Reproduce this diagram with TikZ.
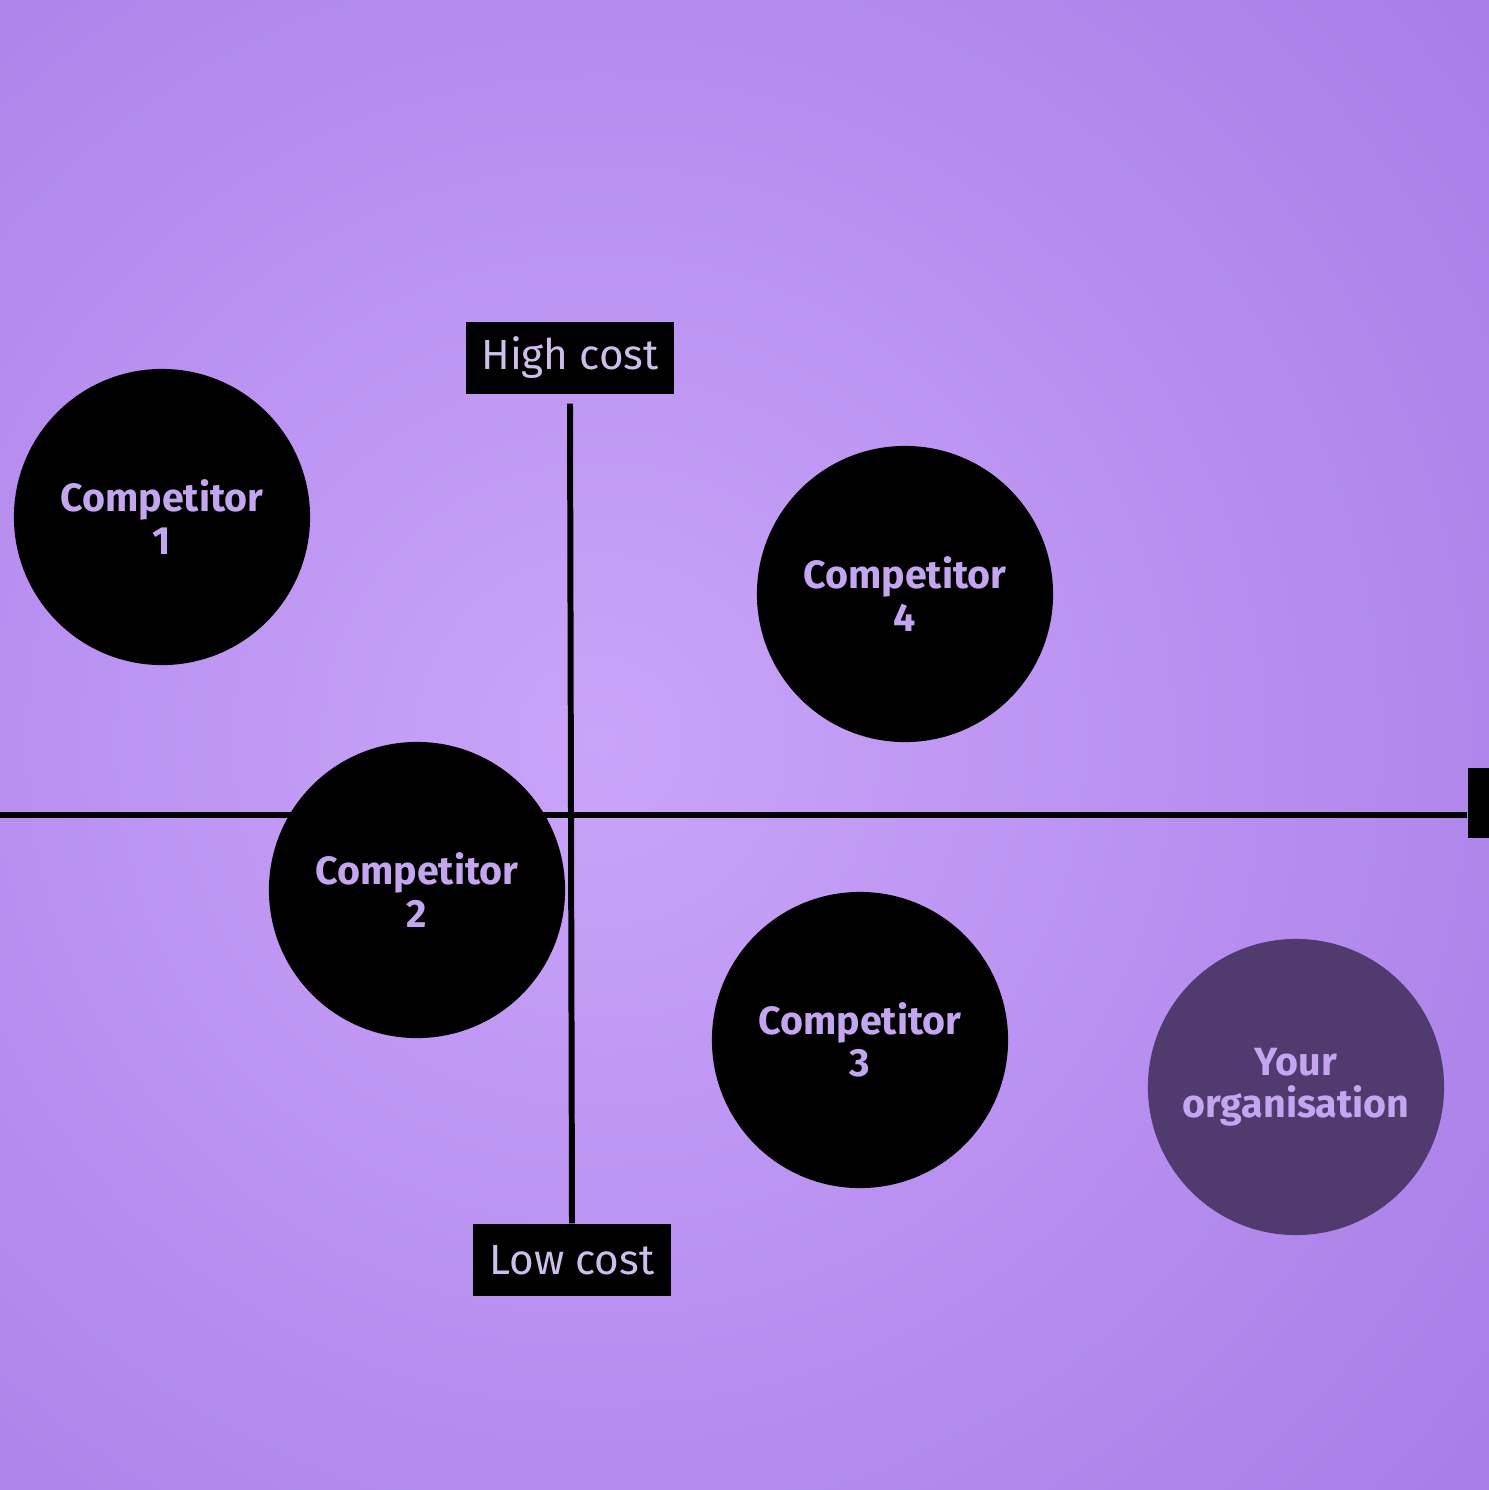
\documentclass[tikz,border=0pt]{standalone}
\usepackage{fontspec}
\setmainfont{Fira Sans}
\usepackage{xcolor}
\usepackage{tikz}
\usetikzlibrary{
	calc,
	positioning
}
\definecolor{BgInner}{RGB}{202,164,249}
\definecolor{BgOuter}{RGB}{164,120,229}
\definecolor{Lavender}{RGB}{196,166,240}
\definecolor{LabelText}{RGB}{206,190,236}
\definecolor{OrgFill}{RGB}{79,59,110}

\begin{document}
\begin{tikzpicture}[x=0.01cm, y=-0.01cm,
		rival/.style={circle, fill=black, minimum size=2.96cm, inner sep=0pt, align=center, text=Lavender, font=\fontsize{11.2}{12}\selectfont\bfseries},
		axislabel/.style={fill=black, minimum width=2.07cm, minimum height=0.72cm, inner sep=0pt, text=LabelText, font=\fontsize{12}{14}\selectfont},
		axisline/.style={line width=1.7pt, black}]
			\useasboundingbox (0,0) rectangle (1489,1490);
			% background
			\begin{scope}
				\clip (0,0) rectangle (1489,1490);
				\fill[BgOuter] (0,0) rectangle (1489,1490);
				\shade[inner color=BgInner, outer color=BgOuter] (-700,-560) rectangle (1900,2040);
			\end{scope}
			% axes
			\node[axislabel] (high) at (570,358) {High cost};
			\node[axislabel, minimum width=1.97cm] (low) at (572,1260) {Low cost};
			\node[fill=black, minimum width=0.6cm, minimum height=0.7cm, inner sep=0pt, anchor=west] (right) at (1467,803) {};
			\coordinate (west) at (0,815);
			\draw[axisline] ([yshift=-0.09cm]high.south) -- (low.north);
			\draw[axisline] (west) -- (west -| right.west);
			% competitors
			\node[rival] (c1) at (162,517) {Competitor\\1};
			\node[rival] (c4) at (905,594) {Competitor\\4};
			\node[rival] (c2) at (417,890) {Competitor\\2};
			\node[rival] (c3) at (860,1040) {Competitor\\3};
			\node[rival, fill=OrgFill] (org) at (1296,1087) {Your\\organisation};
		\end{tikzpicture}
\end{document}
